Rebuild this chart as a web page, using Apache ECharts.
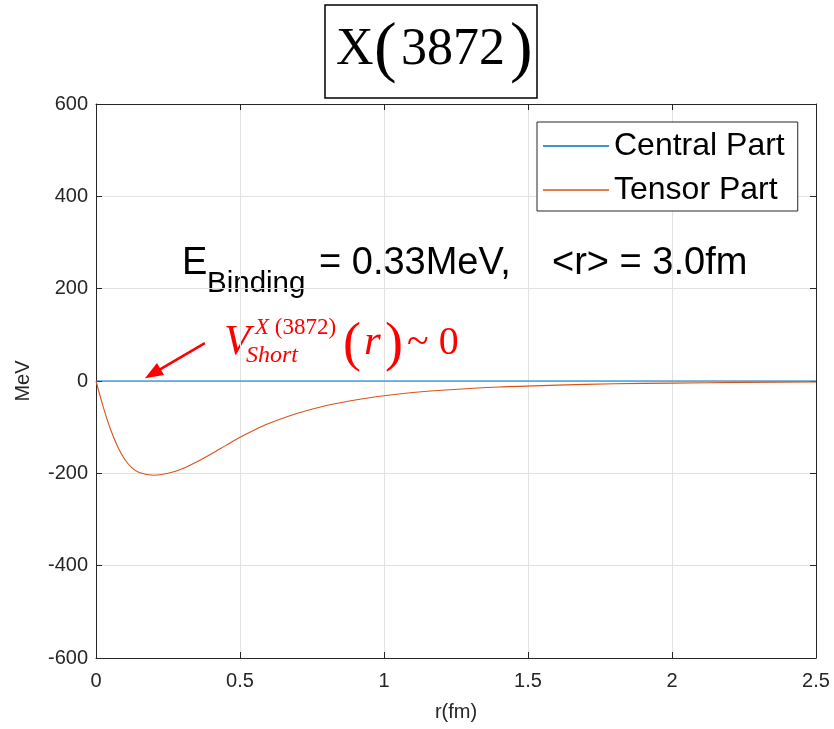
<!DOCTYPE html>
<html lang="en">
<head>
    <meta charset="UTF-8">
    <title>X(3872)</title>
    <script src="https://cdn.jsdelivr.net/npm/echarts@6/dist/echarts.min.js"></script>
    <style>
        html, body { margin: 0; padding: 0; background: #fff; }
        #chart { width: 834px; height: 729px; }
    </style>
</head>
<body>
<div id="chart"></div>
<script type="text/javascript">
	// r in fm, potentials in MeV
	var rValues = [0, 0.025, 0.05, 0.075, 0.1, 0.125, 0.15, 0.2, 0.25, 0.3, 0.35, 0.4, 0.45, 0.5,
		0.55, 0.6, 0.7, 0.8, 0.9, 1.0, 1.1, 1.2, 1.4, 1.6, 1.8, 2.0, 2.25, 2.5];
	var tensorValues = [0, -56, -104, -142, -170, -188, -198, -204, -200, -190, -175, -158, -140, -122,
		-106, -92, -70, -53, -41, -32, -25, -20, -13, -9, -6, -4.5, -3, -2];
	var centralValues = [0, 0, 0, 0, 0, 0, 0, 0, 0, 0, 0, 0, 0, 0,
		0, 0, 0, 0, 0, 0, 0, 0, 0, 0, 0, 0, 0, 0];
	var seriesNames = ['Central Part', 'Tensor Part'];
	var xTicks = {min: 0, max: 2.5, interval: 0.5};
	var yTicks = {min: -600, max: 600, interval: 200};
	// arrow pointing at the central line (r, MeV)
	var arrowFrom = [0.378, 82];
	var arrowTo = [0.197, 16];

	var chart = echarts.init(document.getElementById('chart'));

	function pairs(xs, ys) {
		var out = [];
		for (var i = 0; i < xs.length; i++) {
			out.push([xs[i], ys[i]]);
		}
		return out;
	}

	var sans = 'Liberation Sans, Arial, sans-serif';
	var serif = 'Liberation Serif, Times New Roman, serif';
	var axisColor = '#262626';

	function xAxisDef(pos) {
		return {
			type: 'value',
			position: pos,
			min: xTicks.min,
			max: xTicks.max,
			interval: xTicks.interval,
			name: pos === 'bottom' ? 'r(fm)' : '',
			nameLocation: 'middle',
			nameGap: 44,
			nameTextStyle: {fontFamily: sans, fontSize: 20, color: axisColor},
			axisLine: {show: true, onZero: false, lineStyle: {color: axisColor, width: 1}},
			axisTick: {show: true, inside: true, length: 6, lineStyle: {color: axisColor}},
			axisLabel: {show: pos === 'bottom', fontFamily: sans, fontSize: 20, color: axisColor, margin: 13},
			splitLine: {show: pos === 'bottom', lineStyle: {color: '#e2e2e2', width: 1}}
		};
	}

	function yAxisDef(pos) {
		return {
			type: 'value',
			position: pos,
			min: yTicks.min,
			max: yTicks.max,
			interval: yTicks.interval,
			name: pos === 'left' ? 'MeV' : '',
			nameLocation: 'middle',
			nameGap: 63,
			nameTextStyle: {fontFamily: sans, fontSize: 20, color: axisColor},
			axisLine: {show: true, onZero: false, lineStyle: {color: axisColor, width: 1}},
			axisTick: {show: true, inside: true, length: 6, lineStyle: {color: axisColor}},
			axisLabel: {show: pos === 'left', fontFamily: sans, fontSize: 20, color: axisColor, margin: 8},
			splitLine: {show: pos === 'left', lineStyle: {color: '#e2e2e2', width: 1}}
		};
	}

	function txt(x, y, s, family, size, color, italic) {
		return {
			type: 'text', x: x, y: y,
			style: {
				text: s, fontFamily: family, fontSize: size, fill: color,
				fontStyle: italic ? 'italic' : 'normal',
				align: 'left', verticalAlign: 'middle'
			}
		};
	}

	var option = {
		animation: false,
		backgroundColor: '#fff',
		grid: {left: 96, right: 18, top: 104, bottom: 71},
		xAxis: [xAxisDef('bottom'), xAxisDef('top')],
		yAxis: [yAxisDef('left'), yAxisDef('right')],
		legend: {
			orient: 'vertical',
			left: 537,
			top: 122,
			padding: [8, 13, 5, 6],
			itemGap: 12,
			itemWidth: 66,
			itemHeight: 1.5,
			backgroundColor: '#fff',
			borderColor: axisColor,
			borderWidth: 1,
			borderRadius: 0,
			textStyle: {fontFamily: sans, fontSize: 32, color: '#000'},
			data: [
				{name: seriesNames[0], icon: 'rect'},
				{name: seriesNames[1], icon: 'rect'}
			]
		},
		series: [
			{
				name: seriesNames[0],
				type: 'line',
				symbol: 'none',
				z: 3,
				lineStyle: {color: '#0072BD', width: 1.2},
				itemStyle: {color: '#0072BD'},
				data: pairs(rValues, centralValues),
				markLine: {
					silent: true,
					symbol: ['none', 'triangle'],
					symbolSize: [14, 18],
					label: {show: false},
					lineStyle: {color: '#ff0000', width: 2.5, type: 'solid'},
					data: [[{coord: arrowFrom}, {coord: arrowTo}]]
				}
			},
			{
				name: seriesNames[1],
				type: 'line',
				symbol: 'none',
				smooth: 0.3,
				lineStyle: {color: '#D95319', width: 1.1},
				itemStyle: {color: '#D95319'},
				data: pairs(rValues, tensorValues)
			}
		],
		graphic: [
			// boxed title
			{
				type: 'rect',
				shape: {x: 325, y: 5, width: 212, height: 93},
				style: {fill: '#fff', stroke: '#000', lineWidth: 1.5}
			},
			txt(336, 50, 'X', serif, 52, '#000'),
			txt(374, 51, '(', serif, 68, '#000'),
			txt(401, 50, '3872', serif, 52, '#000'),
			txt(510, 51, ')', serif, 68, '#000'),
			// binding energy note
			txt(182, 264, 'E', sans, 38, '#000'),
			txt(207, 284, 'Binding', sans, 29.5, '#000'),
			txt(319, 264, '= 0.33MeV,', sans, 38, '#000'),
			txt(552, 264, '<r> = 3.0fm', sans, 38, '#000'),
			// red label V_Short^X(3872)(r) ~ 0
			txt(224, 343, 'V', serif, 43, '#ff0000', true),
			{
				type: 'text', x: 255, y: 328,
				style: {
					text: '{i|X}{n| (3872)}',
					align: 'left',
					verticalAlign: 'middle',
					rich: {
						i: {fontFamily: serif, fontStyle: 'italic', fontSize: 23, fill: '#ff0000'},
						n: {fontFamily: serif, fontSize: 23, fill: '#ff0000'}
					}
				}
			},
			txt(246, 356, 'Short', serif, 24, '#ff0000', true),
			txt(343, 346, '(', serif, 54, '#ff0000'),
			txt(364, 343, 'r', serif, 43, '#ff0000', true),
			txt(385, 346, ')', serif, 54, '#ff0000'),
			txt(407, 343, '~ 0', serif, 40, '#ff0000')
		]
	};

	chart.setOption(option);
</script>
</body>
</html>
